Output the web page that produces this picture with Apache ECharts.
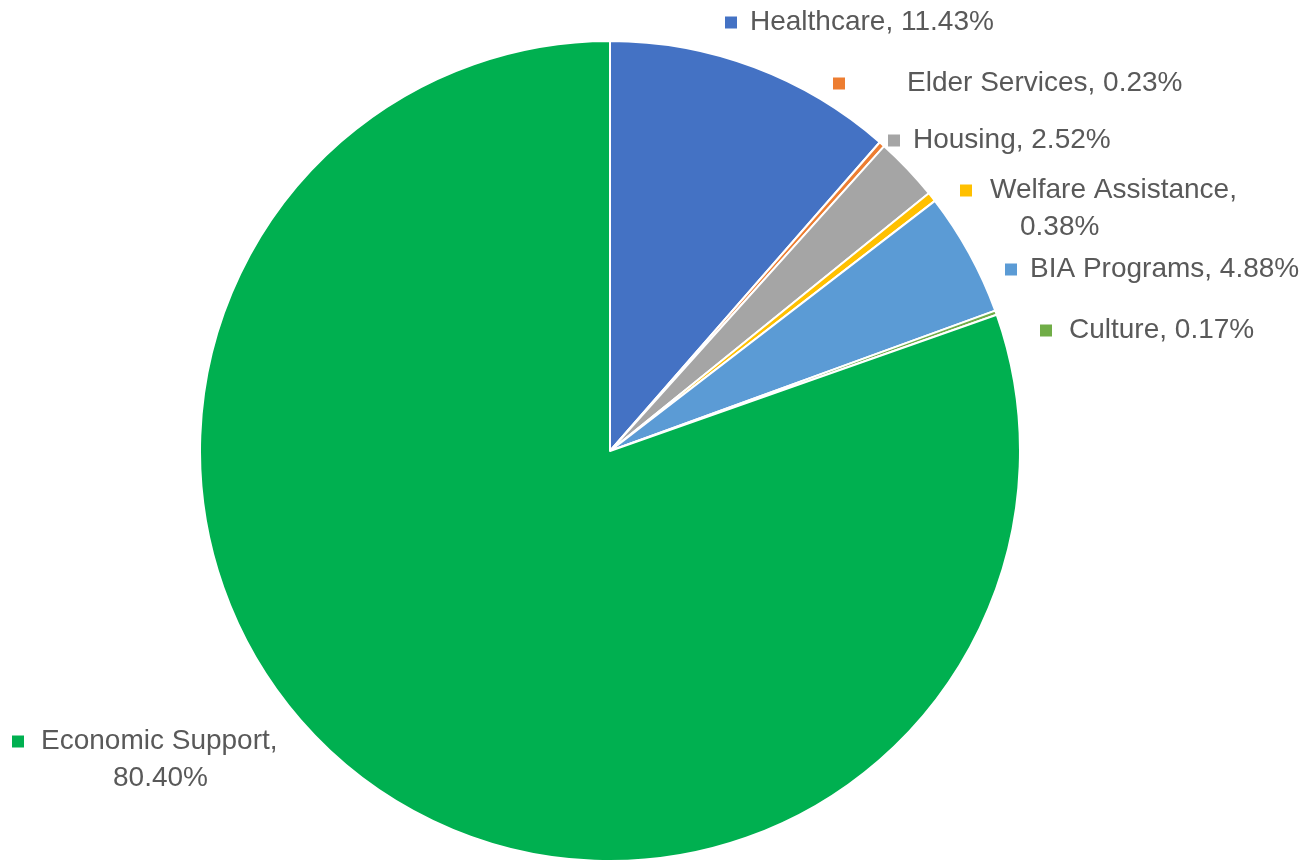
<!DOCTYPE html>
<html>
<head>
<meta charset="utf-8">
<script src="https://cdn.jsdelivr.net/npm/echarts@6/dist/echarts.min.js"></script>
<style>
html,body{margin:0;padding:0;background:#fff;}
#chart{width:1312px;height:864px;}
</style>
</head>
<body>
<div id="chart"></div>
<script>
// ---- data ----
const categories = ['Healthcare', 'Elder Services', 'Housing', 'Welfare Assistance', 'BIA Programs', 'Culture', 'Economic Support'];
const values = [11.43, 0.23, 2.52, 0.38, 4.88, 0.17, 80.40];

// ---- styles / layout ----
const colors = ['#4472C4', '#ED7D31', '#A5A5A5', '#FFC000', '#5B9BD5', '#70AD47', '#00B050'];
const labelPos = [[725, 4], [833, 65], [888, 122], [960, 172], [1005, 251], [1040, 312], [12, 723]];
const markerGap = [13, 62, 13, 18, 13, 17, 17];
const wrapIndent = [null, null, null, 60, null, null, 101];

const rich = { t: { fontFamily: 'Liberation Sans', fontSize: 28, color: '#595959', lineHeight: 37 } };
colors.forEach(function (c, i) {
  rich['m' + i] = { width: 12, height: 12, backgroundColor: c, lineHeight: 37 };
  rich['g' + i] = { width: markerGap[i], lineHeight: 37 };
  if (wrapIndent[i] !== null) rich['s' + i] = { width: wrapIndent[i], lineHeight: 37 };
});

const chart = echarts.init(document.getElementById('chart'));
chart.setOption({
  animation: false,
  backgroundColor: '#ffffff',
  series: [{
    type: 'pie',
    center: [610, 451],
    radius: 410,
    startAngle: 90,
    clockwise: true,
    avoidLabelOverlap: false,
    itemStyle: { borderColor: '#ffffff', borderWidth: 2 },
    emphasis: { disabled: true },
    data: categories.map(function (n, i) {
      return { name: n, value: values[i], itemStyle: { color: colors[i] } };
    }),
    label: {
      show: true,
      position: 'outside',
      rich: rich,
      formatter: function (p) {
        const i = p.dataIndex;
        const pct = values[i].toFixed(2) + '%';
        if (wrapIndent[i] !== null) {
          return '{m' + i + '|}{g' + i + '|}{t|' + p.name + ',}\n{s' + i + '|}{t|' + pct + '}';
        }
        return '{m' + i + '|}{g' + i + '|}{t|' + p.name + ', ' + pct + '}';
      }
    },
    labelLine: { show: false },
    labelLayout: function (params) {
      const pos = labelPos[params.dataIndex];
      return { x: pos[0], y: pos[1], align: 'left', verticalAlign: 'top' };
    }
  }]
});
</script>
</body>
</html>
